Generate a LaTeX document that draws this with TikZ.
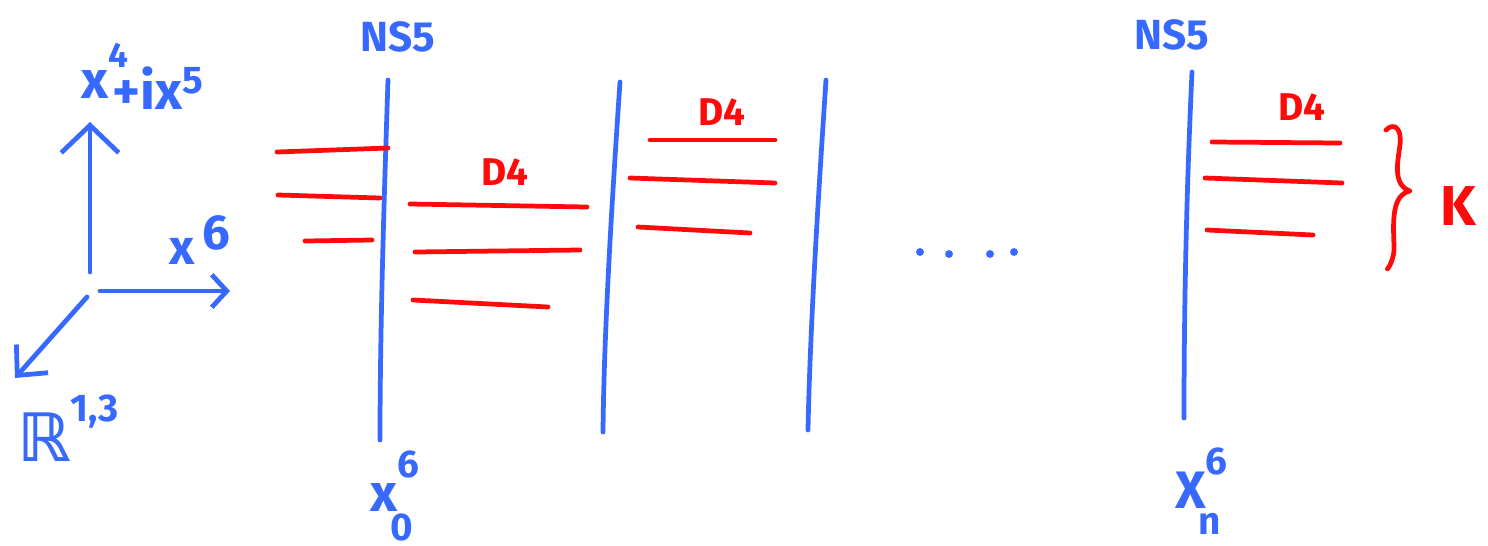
\documentclass[tikz,border=0pt]{standalone}
\usepackage{fontspec}
\usepackage{amssymb}
\setmainfont{Fira Sans}
\setsansfont{Fira Sans}
\newfontfamily\dejavu{DejaVu Sans}
\usetikzlibrary{arrows.meta}
\definecolor{penblue}{RGB}{55,105,255}
\definecolor{penred}{RGB}{255,10,10}
\tikzset{
  bluestroke/.style={draw=penblue, line width=2.7pt, line cap=round, line join=round},
  redstroke/.style={draw=penred, line width=2.7pt, line cap=round, line join=round},
  bluelab/.style={text=penblue, inner sep=0pt, font=\fontsize{24}{28}\selectfont\bfseries},
  redlab/.style={text=penred, inner sep=0pt, font=\fontsize{22}{26}\selectfont\bfseries},
  dotmark/.style={fill=penblue, circle, inner sep=0pt, minimum size=4.5pt},
}
\begin{document}
\begin{tikzpicture}[x=0.02cm, y=-0.02cm]
\useasboundingbox (0,0) rectangle (1488,545);

% ---- axes ----
\coordinate (o1) at (90,272);
\coordinate (up) at (90,122);
\coordinate (o2) at (100,291);
\coordinate (right) at (230,291);
\coordinate (o3) at (87,297);
\coordinate (diag) at (15,378);
\draw[bluestroke, -{Straight Barb[length=0.55cm,width=1.15cm,line width=2.7pt]}] (o1) -- (up);
\draw[bluestroke, -{Straight Barb[length=0.3cm,width=0.65cm,line width=2.7pt]}] (o2) -- (right);
\draw[bluestroke, -{Straight Barb[length=0.45cm,width=0.85cm,line width=2.7pt]}] (o3) -- (diag);

\node[bluelab, font=\fontsize{30}{32}\selectfont\bfseries] (lx45) at (142,76) {x\raisebox{0.6em}{\fontsize{20}{22}\selectfont\bfseries 4}\hspace{-0.3em}\raisebox{-0.2em}{+ix\raisebox{0.3em}{\fontsize{22}{22}\selectfont\bfseries 5}}};
\node[bluelab, font=\fontsize{28}{32}\selectfont\bfseries] (lx6) at (200,240) {x\,\raisebox{0.3em}{6}};
\node[bluelab, font=\fontsize{38}{40}\selectfont] (lr13) at (68,428) {{\dejavu\bfseries ℝ}\raisebox{0.6em}{\fontsize{22}{22}\selectfont\bfseries 1,3}};

% ---- NS5 branes ----
\coordinate (a1) at (388,80);  \coordinate (a2) at (380,440);
\coordinate (b1) at (620,82);  \coordinate (b2) at (603,432);
\coordinate (c1) at (826,80);  \coordinate (c2) at (808,430);
\coordinate (d1) at (1192,72); \coordinate (d2) at (1184,418);
\draw[bluestroke] (a1) .. controls (384,200) and (380,330) .. (a2);
\draw[bluestroke] (b1) .. controls (612,200) and (604,330) .. (b2);
\draw[bluestroke] (c1) .. controls (818,200) and (810,330) .. (c2);
\draw[bluestroke] (d1) .. controls (1186,200) and (1184,320) .. (d2);

\node[bluelab] (ns5a) at (398,37) {NS5};
\node[bluelab] (ns5b) at (1172,35) {NS5};

\node[bluelab, font=\fontsize{30}{32}\selectfont\bfseries] (x0) at (392,496) {x\raisebox{0.65em}{\fontsize{22}{22}\selectfont\bfseries 6}\hspace{-0.55em}\raisebox{-0.55em}{\fontsize{22}{22}\selectfont\bfseries 0}};
\node[bluelab, font=\fontsize{30}{32}\selectfont\bfseries] (xn) at (1198,491) {X\raisebox{0.65em}{\fontsize{22}{22}\selectfont\bfseries 6}\hspace{-0.55em}\raisebox{-0.5em}{\fontsize{22}{22}\selectfont\bfseries n}};

% ---- D4 branes ----
\coordinate (p1) at (277,152); \coordinate (q1) at (388,148);
\coordinate (p2) at (278,195); \coordinate (q2) at (380,198);
\coordinate (p3) at (305,241); \coordinate (q3) at (372,240);
\draw[redstroke] (p1) -- (q1);
\draw[redstroke] (p2) -- (q2);
\draw[redstroke] (p3) -- (q3);

\coordinate (p4) at (410,204); \coordinate (q4) at (587,207);
\coordinate (p5) at (415,252); \coordinate (q5) at (580,250);
\coordinate (p6) at (413,300); \coordinate (q6) at (548,307);
\draw[redstroke] (p4) -- (q4);
\draw[redstroke] (p5) -- (q5);
\draw[redstroke] (p6) -- (q6);

\coordinate (p7) at (650,140); \coordinate (q7) at (775,140);
\coordinate (p8) at (630,178); \coordinate (q8) at (775,183);
\coordinate (p9) at (638,227); \coordinate (q9) at (750,233);
\draw[redstroke] (p7) -- (q7);
\draw[redstroke] (p8) -- (q8);
\draw[redstroke] (p9) -- (q9);

\coordinate (p10) at (1212,142); \coordinate (q10) at (1340,143);
\coordinate (p11) at (1205,178); \coordinate (q11) at (1342,183);
\coordinate (p12) at (1207,230); \coordinate (q12) at (1313,235);
\draw[redstroke] (p10) -- (q10);
\draw[redstroke] (p11) -- (q11);
\draw[redstroke] (p12) -- (q12);

\node[redlab] (d4a) at (505,172) {D4};
\node[redlab] (d4b) at (722,112) {D4};
\node[redlab] (d4c) at (1302,107) {D4};

% ---- dots ----
\node[dotmark] (dt1) at (920,252) {};
\node[dotmark] (dt2) at (949,254) {};
\node[dotmark] (dt3) at (990,254) {};
\node[dotmark] (dt4) at (1014,252) {};

% ---- brace and K ----
\coordinate (br1) at (1386,130);
\coordinate (brm) at (1410,191);
\coordinate (br2) at (1388,268);
\draw[redstroke] (br1) .. controls (1394,122) and (1402,128) .. (1400,145)
  .. controls (1398,160) and (1392,185) .. (brm)
  .. controls (1392,195) and (1393,220) .. (1394,245)
  .. controls (1395,262) and (1385,272) .. (br2);
\node[redlab, font=\fontsize{32}{34}\selectfont\bfseries] (kk) at (1458,206) {K};
\end{tikzpicture}
\end{document}
